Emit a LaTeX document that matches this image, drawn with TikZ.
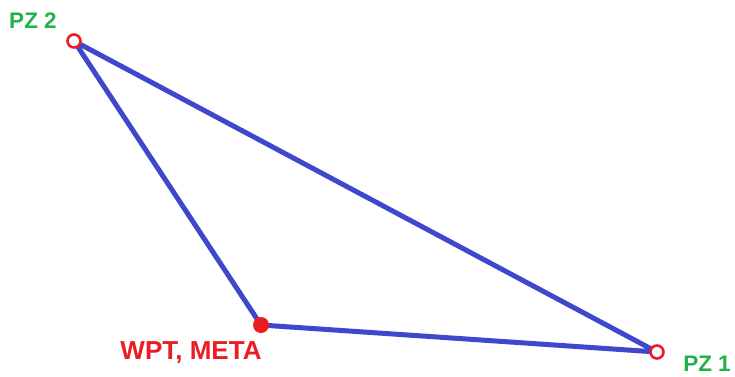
\documentclass[tikz,border=0pt]{standalone}
\usepackage{fontspec}
\setmainfont{Liberation Sans}
\definecolor{pgreen}{RGB}{34,177,76}
\definecolor{pred}{RGB}{237,28,36}
\definecolor{pblue}{RGB}{63,72,204}
\tikzset{
  edge/.style={draw=pblue, line width=5pt, line cap=round, line join=round},
  hollow/.style={circle, draw=pred, fill=white, line width=2.6pt, minimum size=13pt, inner sep=0pt},
  solid dot/.style={circle, fill=pred, minimum size=16pt, inner sep=0pt},
  glabel/.style={text=pgreen, font=\bfseries\fontsize{22.5}{24}\selectfont, inner sep=0pt},
  rlabel/.style={text=pred, font=\bfseries\fontsize{26}{28}\selectfont, inner sep=0pt}
}
\begin{document}
\begin{tikzpicture}[x=1pt,y=-1pt]
\useasboundingbox (0,0) rectangle (735,376);
\coordinate (p2) at (74,41);
\coordinate (w) at (261,325);
\coordinate (p1) at (657,352);
\draw[edge] (p2) -- (w) -- (p1) -- cycle;
\node[hollow] (pz2) at (p2) {};
\node[hollow] (pz1) at (p1) {};
\node[solid dot] (wpt) at (w) {};
\node[glabel] (l2) at (33,21) {PZ 2};
\node[glabel] (l1) at (707,364) {PZ 1};
\node[rlabel] (lw) at (191,353) {WPT, META};
\end{tikzpicture}
\end{document}
